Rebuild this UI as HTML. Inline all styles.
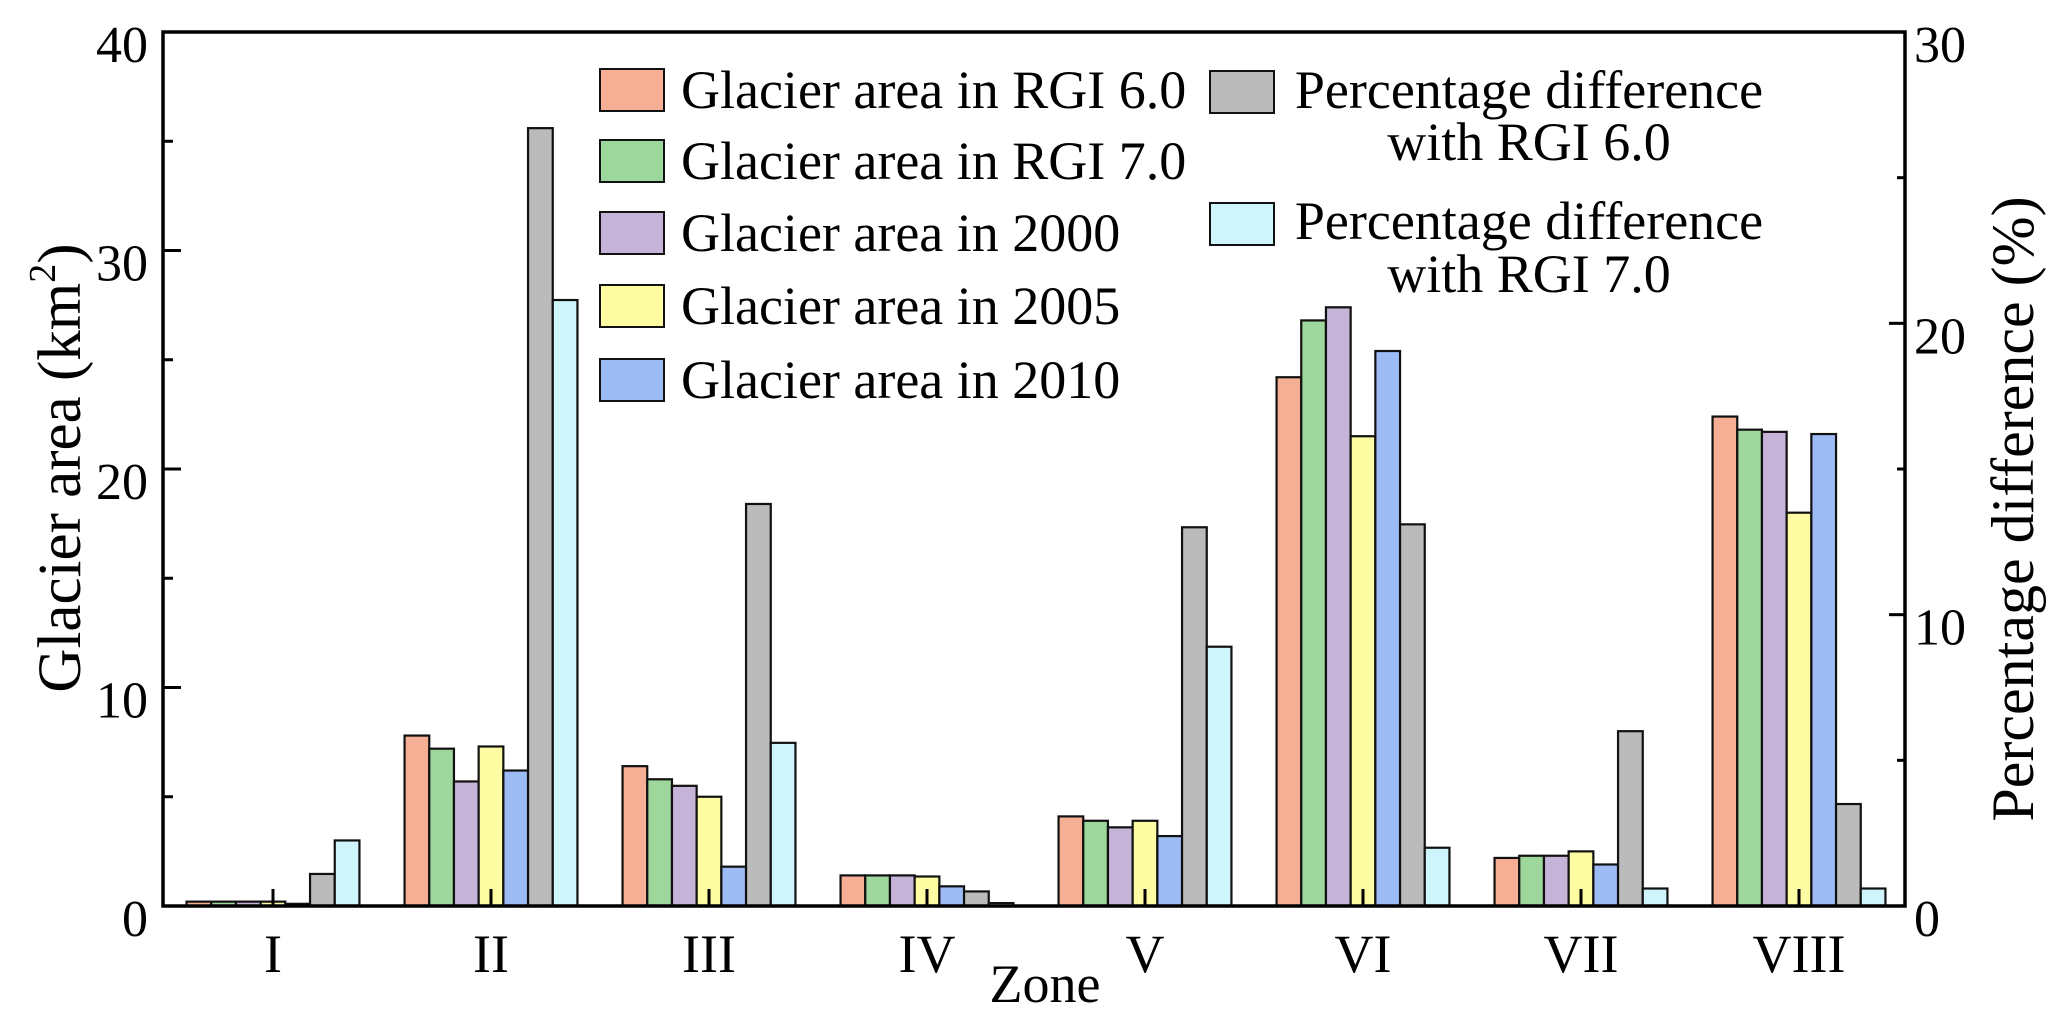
<!DOCTYPE html>
<html><head><meta charset="utf-8"><style>
html,body{margin:0;padding:0;background:#fff;}
svg{display:block;}
text{font-family:"Liberation Serif","DejaVu Serif",serif;fill:#000;}
</style></head><body>
<svg id="chart" width="2067" height="1024" viewBox="0 0 2067 1024" xmlns="http://www.w3.org/2000/svg" font-family="Liberation Serif, serif">
<g id="bars"></g>
<g id="axes"></g>
<g id="legend"></g>
</svg>
<script>
const zones = ["I","II","III","IV","V","VI","VII","VIII"];
const rgi60 = [0.2, 7.8, 6.4, 1.4, 4.1, 24.2, 2.2, 22.4];
const rgi70 = [0.2, 7.2, 5.8, 1.4, 3.9, 26.8, 2.3, 21.8];
const area2000 = [0.2, 5.7, 5.5, 1.4, 3.6, 27.4, 2.3, 21.7];
const area2005 = [0.2, 7.3, 5.0, 1.35, 3.9, 21.5, 2.5, 18.0];
const area2010 = [0.1, 6.2, 1.8, 0.9, 3.2, 25.4, 1.9, 21.6];
const pct60 = [1.1, 26.7, 13.8, 0.5, 13.0, 13.1, 6.0, 3.5];
const pct70 = [2.25, 20.8, 5.6, 0.1, 8.9, 2.0, 0.6, 0.6];
const leftTicks = [0, 10, 20, 30, 40];
const rightTicks = [0, 10, 20, 30];

const NS = "http://www.w3.org/2000/svg";
const FONT = '"Liberation Serif", "DejaVu Serif", serif';
const L = 163, R = 1905, T = 32, B = 906;
const yL = v => B - (v / 40) * (B - T);
const yR = v => B - (v / 30) * (B - T);
const xZone = i => 273 + i * 218;
const BW = 24.7;

function mk(tag, attrs, parent, text) {
  const e = document.createElementNS(NS, tag);
  for (const k in attrs) e.setAttribute(k, attrs[k]);
  if (tag === 'text') e.setAttribute('font-family', FONT);
  if (text !== undefined) e.textContent = text;
  parent.appendChild(e);
  return e;
}
const gBars = document.getElementById('bars');
const gAxes = document.getElementById('axes');
const gLeg = document.getElementById('legend');

const series = [
  {name:'rgi60', vals:rgi60, color:'#f6ae94', scale:yL},
  {name:'rgi70', vals:rgi70, color:'#9dd79c', scale:yL},
  {name:'2000', vals:area2000, color:'#c5b3d8', scale:yL},
  {name:'2005', vals:area2005, color:'#fdfca3', scale:yL},
  {name:'2010', vals:area2010, color:'#9dbbf5', scale:yL},
  {name:'pct60', vals:pct60, color:'#bbbbbb', scale:yR},
  {name:'pct70', vals:pct70, color:'#cff5fc', scale:yR}
];
series.forEach((s, si) => {
  s.vals.forEach((v, zi) => {
    const x = xZone(zi) + (si - 3.5) * BW;
    const y = s.scale(v);
    const r = mk('rect', {x:x, y:y, width:BW, height:Math.max(B - y, 0.5), fill:s.color, stroke:'#111', 'stroke-width':2.2}, gBars);
    
    
  });
});

const fr = mk('rect', {x:L, y:T, width:R-L, height:B-T, fill:'none', stroke:'#000', 'stroke-width':3.5}, gAxes);



for (let v = 0; v <= 40; v += 5) {
  const len = v % 10 === 0 ? 18 : 10;
  mk('line', {x1:L, x2:L+len, y1:yL(v), y2:yL(v), stroke:'#000', 'stroke-width':3}, gAxes);
}
leftTicks.forEach(v => {
  const t = mk('text', {x:148, y:yL(v)+30, 'text-anchor':'end', 'font-size':52}, gAxes, String(v));
  
  
});
for (let v = 0; v <= 30; v += 5) {
  const len = v % 10 === 0 ? 16 : 8;
  mk('line', {x1:R-len, x2:R, y1:yR(v), y2:yR(v), stroke:'#000', 'stroke-width':3}, gAxes);
}
rightTicks.forEach(v => {
  const t = mk('text', {x:1914, y:yR(v)+30, 'text-anchor':'start', 'font-size':52}, gAxes, String(v));
  
  
});
zones.forEach((z, i) => {
  mk('line', {x1:xZone(i), x2:xZone(i), y1:B, y2:B-17, stroke:'#000', 'stroke-width':3}, gAxes);
  const t = mk('text', {x:xZone(i), y:972, 'text-anchor':'middle', 'font-size':54}, gAxes, z);
  
  
});
const xt = mk('text', {x:1045, y:1002, 'text-anchor':'middle', 'font-size':54}, gAxes, 'Zone');



const yt = mk('text', {x:0, y:0, 'text-anchor':'middle', 'font-size':61, transform:'translate(80,468) rotate(-90)'}, gAxes);


yt.appendChild(document.createTextNode('Glacier area (km'));
mk('tspan', {'font-size':38, dy:-25}, yt, '2');
mk('tspan', {dy:25}, yt, ')');

const yt2 = mk('text', {x:0, y:0, 'text-anchor':'middle', 'font-size':60, transform:'translate(2033,509) rotate(-90)'}, gAxes, 'Percentage difference (%)');



const leftLeg = ['Glacier area in RGI 6.0','Glacier area in RGI 7.0','Glacier area in 2000','Glacier area in 2005','Glacier area in 2010'];
const legY = [90, 161, 233, 306, 380];
leftLeg.forEach((lab, i) => {
  const g = mk('g', {}, gLeg);
  
  
  mk('rect', {x:600, y:legY[i]-21, width:64, height:42, fill:series[i].color, stroke:'#111', 'stroke-width':2}, g);
  mk('text', {x:681, y:legY[i]+18, 'font-size':54}, g, lab);
});
const rightLeg = [['Percentage difference','with RGI 6.0', 90, 142], ['Percentage difference','with RGI 7.0', 221, 274]];
rightLeg.forEach((e, i) => {
  const g = mk('g', {}, gLeg);
  
  
  const cy = i === 0 ? 92 : 224;
  mk('rect', {x:1210, y:cy-21, width:64, height:42, fill:series[5+i].color, stroke:'#111', 'stroke-width':2}, g);
  mk('text', {x:1529, y:e[2]+18, 'font-size':54, 'text-anchor':'middle'}, g, e[0]);
  mk('text', {x:1529, y:e[3]+18, 'font-size':54, 'text-anchor':'middle'}, g, e[1]);
});
</script>
</body></html>
